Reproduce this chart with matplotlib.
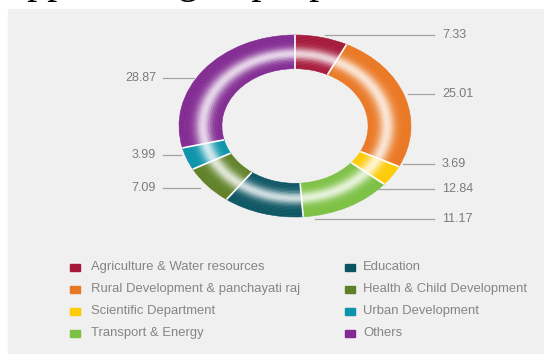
import matplotlib
matplotlib.use("Agg")
import matplotlib.pyplot as plt
from matplotlib.patches import Rectangle
import numpy as np

# data
categories = ["Agriculture & Water resources", "Rural Development & panchayati raj",
              "Scientific Department", "Transport & Energy", "Education",
              "Health & Child Development", "Urban Development", "Others"]
values = [7.33, 25.01, 3.69, 12.84, 11.17, 7.09, 3.99, 28.87]
colors = ["#a6183a", "#ea7722", "#ffcb05", "#7cc142", "#0b5563",
          "#5f8126", "#0a93aa", "#822a92"]
value_labels = ["7.33", "25.01", "3.69", "12.84", "11.17", "7.09", "3.99", "28.87"]

# label layout (pixel coords of figure, y from top)
label_pos = {
    "7.33": (325, 35, "r"), "25.01": (408, 94, "r"), "3.69": (403, 164, "r"),
    "12.84": (378, 189, "r"), "11.17": (315, 219, "r"),
    "28.87": (194, 78, "l"), "3.99": (181, 155, "l"), "7.09": (200, 188, "l"),
}

W, H = 544, 354
fig = plt.figure(figsize=(W / 100, H / 100), dpi=100, facecolor="white")
fig.patches.append(Rectangle((8 / W, 0), 1 - 8 / W, 1 - 9 / H,
                             transform=fig.transFigure, color="#f0f0f0", zorder=-1))

# donut (elliptical)
cx, cy, rx, ry = 295, 126, 116, 91
ax = fig.add_axes([(cx - rx) / W, (H - cy - ry) / H, 2 * rx / W, 2 * ry / H])
ax.axis("off")

r_in, r_out = 0.63, 1.0
n = 24
edges = np.linspace(r_in, r_out, n + 1)
for i in range(n):
    t = (i + 0.5) / n
    k = 0.8 * np.exp(-((t - 0.45) / 0.18) ** 2)
    cols = [tuple(np.array(matplotlib.colors.to_rgb(c)) * (1 - k) + k) for c in colors]
    wedges, _ = ax.pie(values, colors=cols, startangle=90, counterclock=False,
                       radius=edges[i + 1], wedgeprops=dict(width=edges[i + 1] - edges[i], linewidth=0))
    for w in wedges:
        w.set_edgecolor(w.get_facecolor())
        w.set_linewidth(0.4)
ax.set_xlim(-1, 1)
ax.set_ylim(-1, 1)
ax.set_aspect("auto")

# white separators
cum = np.cumsum([0] + values) / sum(values)
for f in cum[:-1]:
    a = np.deg2rad(90 - 360 * f)
    ax.plot([r_in * np.cos(a), r_out * np.cos(a)], [r_in * np.sin(a), r_out * np.sin(a)],
            color="white", lw=1.2, solid_capstyle="butt")

# overlay in pixel coords
ov = fig.add_axes([0, 0, 1, 1], zorder=5)
ov.set_xlim(0, W)
ov.set_ylim(H, 0)
ov.axis("off")

txt = "#7b7b7b"
for lab in value_labels:
    x0, y0, side = label_pos[lab]
    if side == "r":
        ov.plot([x0, 434], [y0, y0], color="#a3a3a3", lw=0.9)
        ov.text(442, y0, lab, ha="left", va="center", fontsize=9, color=txt,
                family="Liberation Sans")
    else:
        ov.plot([163, x0], [y0, y0], color="#a3a3a3", lw=0.9)
        ov.text(156, y0, lab, ha="right", va="center", fontsize=9, color=txt,
                family="Liberation Sans")

# legend
rows = [267, 289, 311, 333]
for i, (name, c) in enumerate(zip(categories, colors)):
    col, row = divmod(i, 4)
    x = 70 if col == 0 else 345
    y = rows[row]
    ov.add_patch(Rectangle((x, y - 3.5), 10, 7, color=c))
    ov.text(x + (21 if col == 0 else 18), y, name, ha="left", va="center",
            fontsize=9.4, color="#858585", family="Liberation Sans")

# clipped caption from the page above
ov.text(-15, -7, "Support for group a plan and research", ha="left", va="baseline",
        fontsize=28.8, color="black", family="Liberation Serif")

fig.savefig("out.png", dpi=100, facecolor="white")
